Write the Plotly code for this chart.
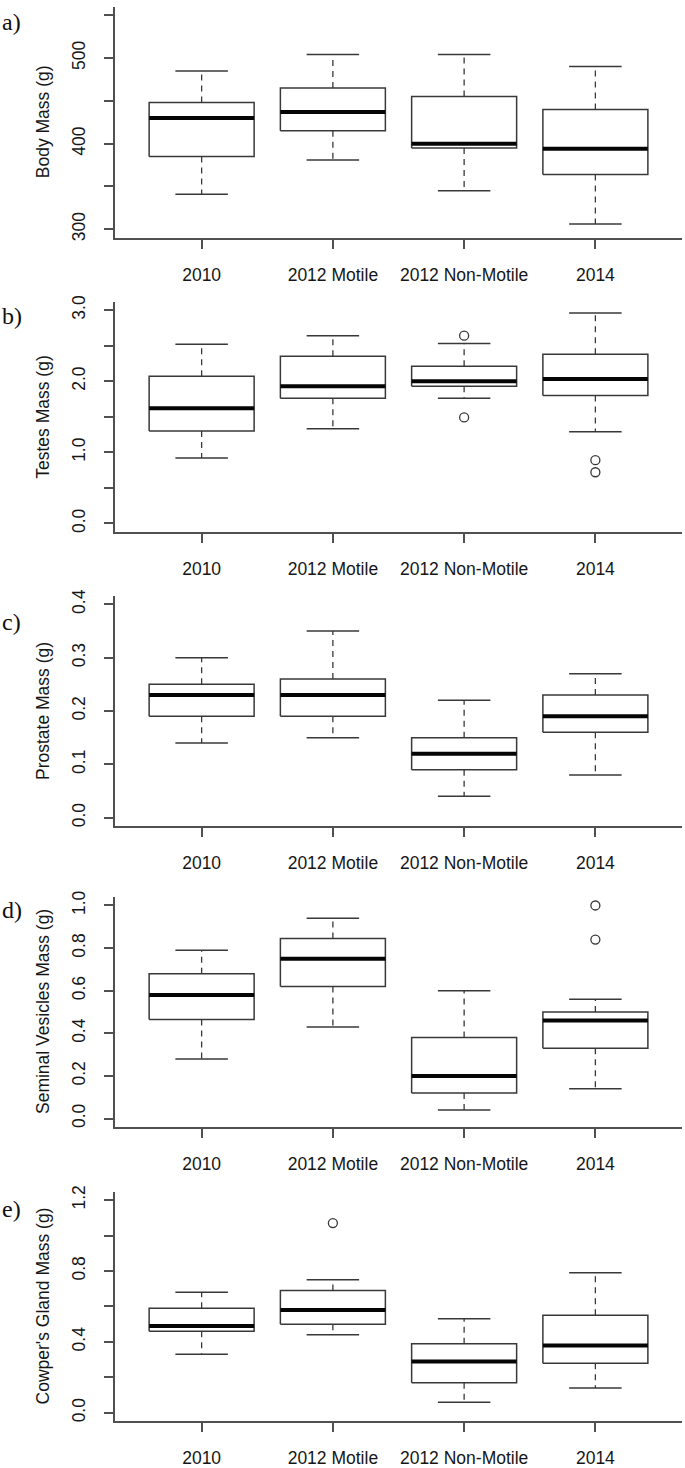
import plotly.graph_objects as go

# ---------------- data ----------------
groups = ["2010", "2012 Motile", "2012 Non-Motile", "2014"]

body_lo = [341, 381, 345, 306]
body_q1 = [385, 415, 395, 364]
body_med = [430, 437, 400, 394]
body_q3 = [448, 465, 455, 440]
body_hi = [485, 504, 504, 490]
body_out = [[], [], [], []]

testes_lo = [0.92, 1.33, 1.76, 1.29]
testes_q1 = [1.30, 1.76, 1.93, 1.80]
testes_med = [1.62, 1.93, 2.00, 2.03]
testes_q3 = [2.07, 2.35, 2.21, 2.38]
testes_hi = [2.52, 2.64, 2.53, 2.96]
testes_out = [[], [], [2.64, 1.49], [0.89, 0.72]]

prostate_lo = [0.14, 0.15, 0.04, 0.08]
prostate_q1 = [0.19, 0.19, 0.09, 0.16]
prostate_med = [0.23, 0.23, 0.12, 0.19]
prostate_q3 = [0.25, 0.26, 0.15, 0.23]
prostate_hi = [0.30, 0.35, 0.22, 0.27]
prostate_out = [[], [], [], []]

seminal_lo = [0.28, 0.43, 0.04, 0.14]
seminal_q1 = [0.465, 0.62, 0.12, 0.33]
seminal_med = [0.58, 0.75, 0.20, 0.46]
seminal_q3 = [0.68, 0.845, 0.38, 0.50]
seminal_hi = [0.79, 0.94, 0.60, 0.56]
seminal_out = [[], [], [], [1.00, 0.84]]

cowper_lo = [0.33, 0.44, 0.06, 0.14]
cowper_q1 = [0.46, 0.50, 0.17, 0.28]
cowper_med = [0.49, 0.58, 0.29, 0.38]
cowper_q3 = [0.59, 0.69, 0.39, 0.55]
cowper_hi = [0.68, 0.75, 0.53, 0.79]
cowper_out = [[], [1.07], [], []]

panel_letters = ["a)", "b)", "c)", "d)", "e)"]
y_titles = ["Body Mass (g)", "Testes Mass (g)", "Prostate Mass (g)",
            "Seminal Vesicles Mass (g)", "Cowper's Gland Mass (g)"]

y_tickvals = [
    [300, 350, 400, 450, 500, 550],
    [0, 0.5, 1.0, 1.5, 2.0, 2.5, 3.0],
    [0, 0.1, 0.2, 0.3, 0.4],
    [0, 0.2, 0.4, 0.6, 0.8, 1.0],
    [0, 0.2, 0.4, 0.6, 0.8, 1.0, 1.2],
]
y_ticktext = [
    ["300", "", "400", "", "500", ""],
    ["0.0", "", "1.0", "", "2.0", "", "3.0"],
    ["0.0", "0.1", "0.2", "0.3", "0.4"],
    ["0.0", "0.2", "0.4", "0.6", "0.8", "1.0"],
    ["0.0", "", "0.4", "", "0.8", "", "1.2"],
]
y_ranges = [[290, 560], [-0.12, 3.12], [-0.016, 0.416], [-0.04, 1.04], [-0.048, 1.248]]

panels = [
    (body_lo, body_q1, body_med, body_q3, body_hi, body_out),
    (testes_lo, testes_q1, testes_med, testes_q3, testes_hi, testes_out),
    (prostate_lo, prostate_q1, prostate_med, prostate_q3, prostate_hi, prostate_out),
    (seminal_lo, seminal_q1, seminal_med, seminal_q3, seminal_hi, seminal_out),
    (cowper_lo, cowper_q1, cowper_med, cowper_q3, cowper_hi, cowper_out),
]

# ---------------- layout geometry (pixels from top) ----------------
W, H = 685, 1468
panel_px = [(0.7, 233.7), (298, 530.3), (594.7, 827), (898.3, 1130.3), (1195.3, 1427)]
letter_y_px = [16, 313, 621, 911, 1213]
x_dom = [115 / W, 682 / W]

BOXW = 0.4      # half box width
STAPLE = 0.2    # half staple width
LINE_COL = "#383838"
AXIS_COL = "#505050"
TXT_COL = "#161616"
FONT = "Liberation Sans, Arial, sans-serif"
FS = 17.5

fig = go.Figure()
layout = dict(
    width=W, height=H, margin=dict(l=0, r=0, t=0, b=0),
    paper_bgcolor="white", plot_bgcolor="white", showlegend=False,
)
annotations = []

for p, (lo, q1, med, q3, hi, outs) in enumerate(panels):
    n = p + 1
    xa = "x" if n == 1 else f"x{n}"
    ya = "y" if n == 1 else f"y{n}"
    pos = list(range(1, len(groups) + 1))

    # boxes
    bx, by = [], []
    for i, c in enumerate(pos):
        bx += [c - BOXW, c + BOXW, c + BOXW, c - BOXW, c - BOXW, None]
        by += [q1[i], q1[i], q3[i], q3[i], q1[i], None]
    fig.add_trace(go.Scatter(x=bx, y=by, mode="lines", xaxis=xa, yaxis=ya,
                             line=dict(color=LINE_COL, width=1.5), hoverinfo="skip"))
    # whiskers (dashed)
    wx, wy = [], []
    for i, c in enumerate(pos):
        wx += [c, c, None, c, c, None]
        wy += [q3[i], hi[i], None, q1[i], lo[i], None]
    fig.add_trace(go.Scatter(x=wx, y=wy, mode="lines", xaxis=xa, yaxis=ya,
                             line=dict(color=LINE_COL, width=1.3, dash="6px,5px"),
                             hoverinfo="skip"))
    # staples
    sx, sy = [], []
    for i, c in enumerate(pos):
        sx += [c - STAPLE, c + STAPLE, None, c - STAPLE, c + STAPLE, None]
        sy += [hi[i], hi[i], None, lo[i], lo[i], None]
    fig.add_trace(go.Scatter(x=sx, y=sy, mode="lines", xaxis=xa, yaxis=ya,
                             line=dict(color=LINE_COL, width=1.5), hoverinfo="skip"))
    # medians
    mx, my = [], []
    for i, c in enumerate(pos):
        mx += [c - BOXW, c + BOXW, None]
        my += [med[i], med[i], None]
    fig.add_trace(go.Scatter(x=mx, y=my, mode="lines", xaxis=xa, yaxis=ya,
                             line=dict(color="#050505", width=4), hoverinfo="skip"))
    # outliers
    ox, oy = [], []
    for i, c in enumerate(pos):
        for v in outs[i]:
            ox.append(c)
            oy.append(v)
    if ox:
        fig.add_trace(go.Scatter(x=ox, y=oy, mode="markers", xaxis=xa, yaxis=ya,
                                 marker=dict(symbol="circle-open", size=9,
                                             color=LINE_COL, line=dict(width=1.3)),
                                 hoverinfo="skip"))

    top, bot = panel_px[p]
    dom = [1 - bot / H, 1 - top / H]
    xkey = "xaxis" if n == 1 else f"xaxis{n}"
    ykey = "yaxis" if n == 1 else f"yaxis{n}"
    layout[xkey] = dict(
        domain=x_dom, anchor=ya, range=[0.34, 4.66],
        tickmode="array", tickvals=pos, ticktext=groups,
        showline=True, linecolor=AXIS_COL, linewidth=1.5,
        ticks="outside", ticklen=9, tickwidth=1.5, tickcolor=AXIS_COL,
        tickfont=dict(family=FONT, size=FS, color=TXT_COL),
        ticklabelstandoff=11,
        showgrid=False, zeroline=False, fixedrange=True,
    )
    layout[ykey] = dict(
        domain=dom, anchor=xa, range=y_ranges[p],
        tickmode="array", tickvals=y_tickvals[p], ticktext=y_ticktext[p],
        showline=True, linecolor=AXIS_COL, linewidth=1.5,
        ticks="outside", ticklen=9, tickwidth=1.5, tickcolor=AXIS_COL,
        tickangle=-90,
        tickfont=dict(family=FONT, size=FS, color=TXT_COL),
        ticklabelstandoff=12,
        showgrid=False, zeroline=False, fixedrange=True,
    )
    # y-axis title
    annotations.append(dict(
        text=y_titles[p], xref="paper", yref="paper",
        x=43 / W, y=(dom[0] + dom[1]) / 2, xanchor="center", yanchor="middle",
        textangle=-90, showarrow=False,
        font=dict(family=FONT, size=FS, color=TXT_COL),
    ))
    # panel letter
    annotations.append(dict(
        text=panel_letters[p], xref="paper", yref="paper",
        x=0, y=1 - letter_y_px[p] / H, xanchor="left", yanchor="middle",
        showarrow=False,
        font=dict(family="Liberation Serif, Times New Roman, serif", size=24, color="#111111"),
    ))

layout["annotations"] = annotations
fig.update_layout(**layout)
fig.write_html(
    "out.html",
    config={"displayModeBar": False},
    post_script="document.body.style.margin='0';document.body.style.padding='0';"
                "document.documentElement.style.overflow='hidden';",
)
